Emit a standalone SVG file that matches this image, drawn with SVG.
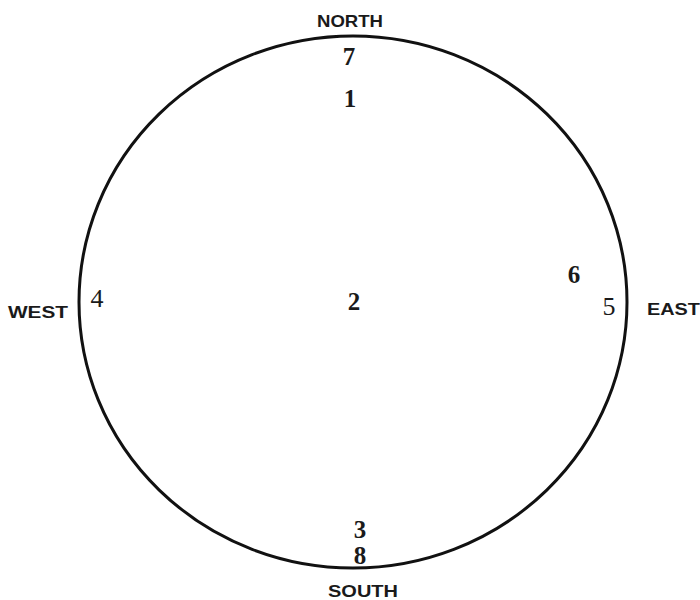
<svg xmlns="http://www.w3.org/2000/svg" width="700" height="600" viewBox="0 0 700 600">
<style>
.dir{font-family:"Liberation Sans",Arial,sans-serif;font-weight:bold;font-size:16.5px;fill:#1a1a1a}
.num{font-family:"Liberation Serif","Times New Roman",serif;font-weight:bold;font-size:25px;fill:#1a1a1a;text-anchor:middle}
.num2{font-family:"Liberation Serif","Times New Roman",serif;font-size:26px;fill:#1a1a1a;text-anchor:middle}
</style>
<rect width="700" height="600" fill="#ffffff"/>
<g id="circle">
<ellipse cx="353" cy="302" rx="274" ry="266" fill="none" stroke="#111" stroke-width="3"/>
</g>
<g id="north"><text class="dir" x="317" y="27" textLength="66" lengthAdjust="spacingAndGlyphs">NORTH</text></g>
<g id="south"><text class="dir" x="328" y="597" textLength="70" lengthAdjust="spacingAndGlyphs">SOUTH</text></g>
<g id="west"><text class="dir" x="8" y="318" textLength="60" lengthAdjust="spacingAndGlyphs">WEST</text></g>
<g id="east"><text class="dir" x="647" y="315" textLength="53" lengthAdjust="spacingAndGlyphs">EAST</text></g>
<g id="n7"><text class="num" x="349" y="65">7</text></g>
<g id="n1"><text class="num" x="350" y="107">1</text></g>
<g id="n4"><text class="num2" x="97" y="307">4</text></g>
<g id="n6"><text class="num" x="574" y="283">6</text></g>
<g id="n5"><text class="num2" x="609" y="315">5</text></g>
<g id="n2"><text class="num" x="354" y="310">2</text></g>
<g id="n3"><text class="num" x="360" y="538">3</text></g>
<g id="n8"><text class="num" x="360" y="564">8</text></g>
<g id="connectors"></g>
</svg>
